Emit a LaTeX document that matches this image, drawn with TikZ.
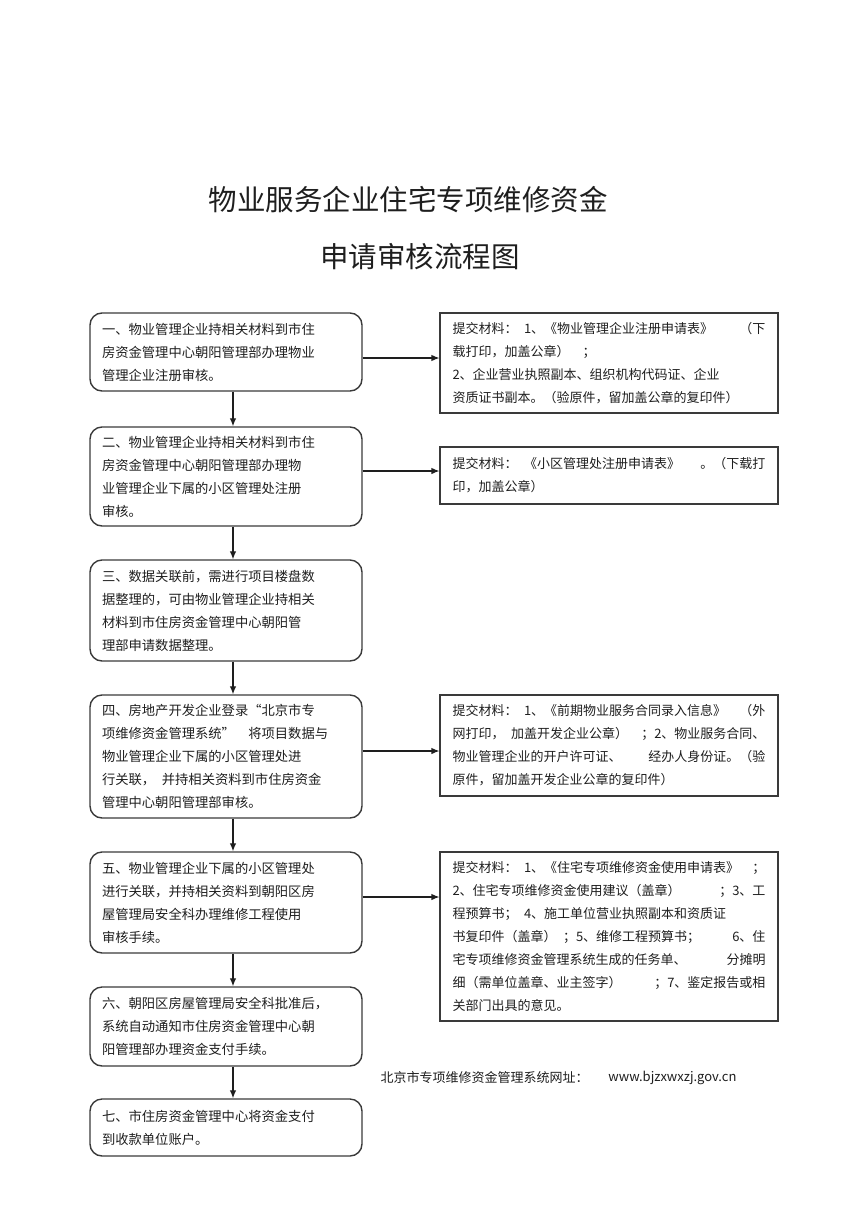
\documentclass[tikz,border=0pt]{standalone}
\usepackage{fontspec}
\setmainfont{Noto Sans CJK SC}
\usetikzlibrary{arrows.meta}
\definecolor{ink}{HTML}{1E1E1E}
\definecolor{frame}{HTML}{3A3A3A}
\tikzset{
  stagebox/.style={
    draw=frame,
    line width=1.4pt,
    rounded corners=12pt,
    minimum width=272pt,
    text width=248pt,
    inner xsep=12pt,
    inner ysep=4pt,
    align=left,
    font=\fontsize{13.3}{23}\selectfont,
    text=ink
  },
  docbox/.style={
    draw=frame,
    line width=1.1pt,
    minimum width=338pt,
    text width=313pt,
    inner xsep=12pt,
    inner ysep=4pt,
    align=left,
    font=\fontsize{13}{23}\selectfont,
    text=ink
  },
  flow/.style={-{Latex[length=8pt,width=6.5pt]},line width=1.2pt,draw=ink},
  pagetitle/.style={font=\fontsize{28.5}{34}\selectfont,text=ink},
  weblink/.style={font=\fontsize{13}{16}\selectfont,text=ink}
}

\begin{document}
\begin{tikzpicture}[x=1pt,y=-1pt]
  \useasboundingbox (0,0) rectangle (860,1218);

  \node[pagetitle] (title1) at (408,200) {物业服务企业住宅专项维修资金};
  \node[pagetitle] (title2) at (420,257) {申请审核流程图};

  % main procedure, left column
  \node[stagebox,minimum height=78pt] (s1) at (226,352) {
    一、物业管理企业持相关材料到市住\\
    房资金管理中心朝阳管理部办理物业\\
    管理企业注册审核。
  };
  \node[stagebox,minimum height=99pt] (s2) at (226,476.5) {
    二、物业管理企业持相关材料到市住\\
    房资金管理中心朝阳管理部办理物\\
    业管理企业下属的小区管理处注册\\
    审核。
  };
  \node[stagebox,minimum height=101pt] (s3) at (226,610.5) {
    三、数据关联前，需进行项目楼盘数\\
    据整理的，可由物业管理企业持相关\\
    材料到市住房资金管理中心朝阳管\\
    理部申请数据整理。
  };
  \node[stagebox,minimum height=123pt] (s4) at (226,756.5) {
    四、房地产开发企业登录“北京市专\\
    项维修资金管理系统”\quad 将项目数据与\\
    物业管理企业下属的小区管理处进\\
    行关联，\enspace 并持相关资料到市住房资金\\
    管理中心朝阳管理部审核。
  };
  \node[stagebox,minimum height=101pt] (s5) at (226,902.5) {
    五、物业管理企业下属的小区管理处\\
    进行关联，并持相关资料到朝阳区房\\
    屋管理局安全科办理维修工程使用\\
    审核手续。
  };
  \node[stagebox,minimum height=79pt] (s6) at (226,1026.5) {
    六、朝阳区房屋管理局安全科批准后，\\
    系统自动通知市住房资金管理中心朝\\
    阳管理部办理资金支付手续。
  };
  \node[stagebox,minimum height=57pt] (s7) at (226,1127.5) {
    七、市住房资金管理中心将资金支付\\
    到收款单位账户。
  };

  % required documents, right column
  \node[docbox,minimum height=100pt] (r1) at (609,363) {
    提交材料：\enspace 1、《物业管理企业注册申请表》\hfill （下\\
    载打印，加盖公章）\quad ；\\
    2、企业营业执照副本、组织机构代码证、企业\\
    资质证书副本。（验原件，留加盖公章的复印件）
  };
  \node[docbox,minimum height=57pt] (r2) at (609,475.5) {
    提交材料：\enspace《小区管理处注册申请表》\hfill 。（下载打\\
    印，加盖公章）
  };
  \node[docbox,minimum height=101pt] (r4) at (609,745.5) {
    提交材料：\enspace 1、《前期物业服务合同录入信息》\hfill （外\\
    网打印，\enspace 加盖开发企业公章）\hfill ；2、物业服务合同、\\
    物业管理企业的开户许可证、\hfill 经办人身份证。（验\\
    原件，留加盖开发企业公章的复印件）
  };
  \node[docbox,minimum height=169pt] (r5) at (609,936.5) {
    提交材料：\enspace 1、《住宅专项维修资金使用申请表》\hfill ；\\
    2、住宅专项维修资金使用建议（盖章）\hfill ；3、工\\
    程预算书；\enspace 4、施工单位营业执照副本和资质证\\
    书复印件（盖章）\enspace ；5、维修工程预算书；\hfill 6、住\\
    宅专项维修资金管理系统生成的任务单、\hfill 分摊明\\
    细（需单位盖章、业主签字）\hfill ；7、鉴定报告或相\\
    关部门出具的意见。
  };

  \node[weblink,anchor=west] (sitename) at (377,1078) {北京市专项维修资金管理系统网址：};
  \node[weblink,anchor=east] (siteurl) at (740,1078) {www.bjzxwxzj.gov.cn};

  \coordinate (spine) at (233,0);
  \draw[flow] (s1.south -| spine) -- (s2.north -| spine);
  \draw[flow] (s2.south -| spine) -- (s3.north -| spine);
  \draw[flow] (s3.south -| spine) -- (s4.north -| spine);
  \draw[flow] (s4.south -| spine) -- (s5.north -| spine);
  \draw[flow] (s5.south -| spine) -- (s6.north -| spine);
  \draw[flow] (s6.south -| spine) -- (s7.north -| spine);

  \draw[flow] (s1.east |- 0,358) -- (r1.west |- 0,358);
  \draw[flow] (s2.east |- 0,471) -- (r2.west |- 0,471);
  \draw[flow] (s4.east |- 0,751) -- (r4.west |- 0,751);
  \draw[flow] (s5.east |- 0,897) -- (r5.west |- 0,897);
\end{tikzpicture}
\end{document}
